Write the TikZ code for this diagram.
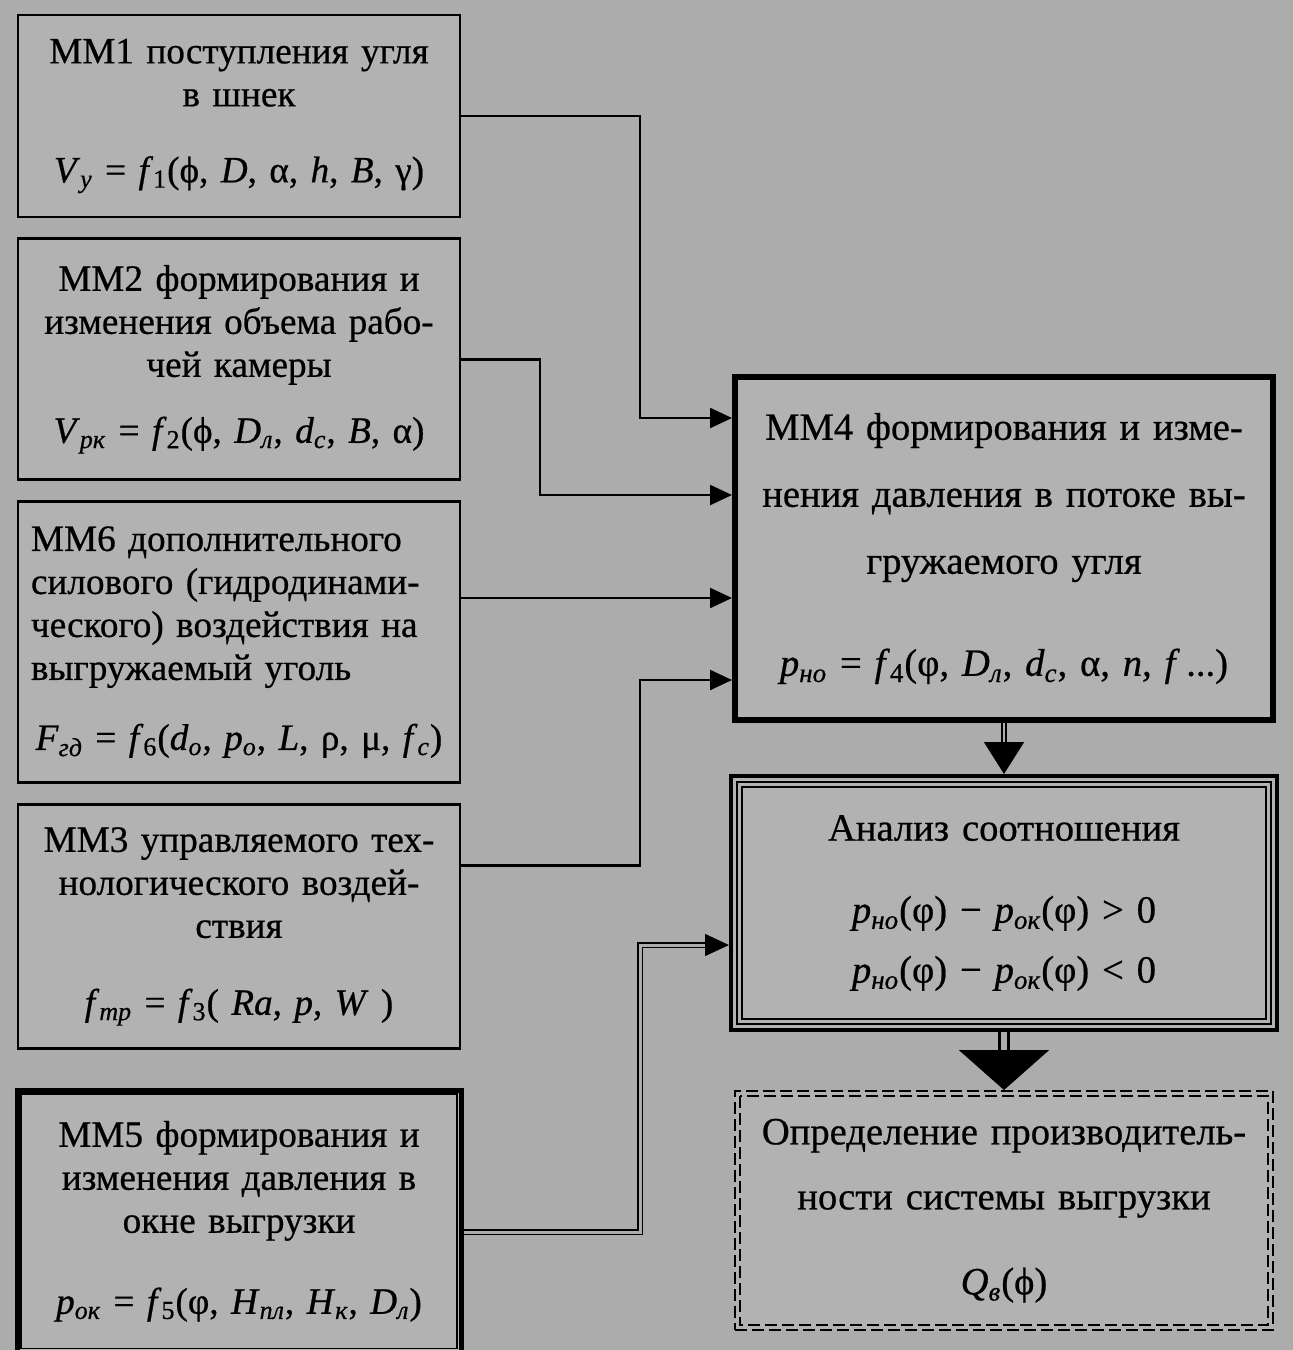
\documentclass[tikz,border=0pt]{standalone}
\usepackage{fontspec}
\setmainfont{Liberation Serif}[FakeBold=0.6]
\usepackage{tikz}
\usetikzlibrary{positioning, arrows.meta}
\definecolor{scan}{RGB}{172,172,172}
\definecolor{boxfill}{RGB}{178,178,178}
\newcommand{\mvar}[1]{\textit{#1}}
\newcommand{\msub}[1]{\textsubscript{\textit{#1}}}
\tikzstyle{model} = [rectangle, minimum width=221pt, text width=218pt,
align=center, draw=black, line width=1.4pt, fill=boxfill, inner sep=0pt,
font=\fontsize{18.6}{21.5}\selectfont]
\tikzstyle{main} = [rectangle, minimum width=269pt, text width=266pt,
align=center, draw=black, fill=boxfill, inner sep=0pt]
\tikzstyle{arrow} = [line width=1.2pt, -{Triangle[length=11pt, width=10pt]}]
\tikzstyle{dblarrow} = [line width=0.7pt, double=scan, double distance=1.5pt,
-{Triangle[length=12pt, width=11pt]}]

\begin{document}
\begin{tikzpicture}
\fill[scan] (0,0) rectangle (646.5pt,-675pt);
\useasboundingbox (0,0) rectangle (646.5pt,-675pt);

% left column
\node(mm1)[model, minimum height=101pt] at (119.5pt,-58pt)
{ММ1 поступления угля\\в шнек\\[16.5pt]
\mvar{V}\msub{у} = \mvar{f}\textsubscript{1}(ϕ, \mvar{D}, α, \mvar{h}, \mvar{B}, γ)};
\node(mm2)[model, minimum height=120.5pt, below=9.5pt of mm1]
{ММ2 формирования и\\изменения объема рабо-\\чей камеры\\[11.5pt]
\mvar{V}\msub{рк} = \mvar{f}\textsubscript{2}(ϕ, \mvar{D}\msub{л}, \mvar{d}\msub{с}, \mvar{B}, α)};
\node(mm6)[model, minimum height=140.5pt, below=9.5pt of mm2, align=left, text width=208pt]
{ММ6 дополнительного\\силового (гидродинами-\\ческого) воздействия на\\выгружаемый уголь\\[13.5pt]
\makebox[\linewidth]{\mvar{F}\msub{гд} = \mvar{f}\textsubscript{6}(\mvar{d}\msub{о}, \mvar{p}\msub{о}, \mvar{L}, ρ, μ, \mvar{f}\msub{с})}};
\node(mm3)[model, minimum height=122pt, below=9.5pt of mm6]
{ММ3 управляемого тех-\\нологического воздей-\\ствия\\[17pt]
\mvar{f}\msub{тр} = \mvar{f}\textsubscript{3}( \mvar{Ra}, \mvar{p}, \mvar{W} )};
\node(mm5)[model, minimum height=131pt, minimum width=222pt, line width=2.5pt, below=19pt of mm3]
{ММ5 формирования и\\изменения давления в\\окне выгрузки\\[19pt]
\mvar{p}\msub{ок} = \mvar{f}\textsubscript{5}(φ, \mvar{H}\msub{пл}, \mvar{H}\msub{к}, \mvar{D}\msub{л})};
\draw[line width=0.9pt] ([shift={(3.2pt,-3.2pt)}]mm5.north west) rectangle ([shift={(-3.2pt,3.2pt)}]mm5.south east);

% right column
\node(mm4)[main, minimum height=171.5pt, line width=3pt, font=\fontsize{19.3}{33.5}\selectfont] at (502pt,-274.25pt)
{ММ4 формирования и изме-\\нения давления в потоке вы-\\гружаемого угля\\[17.5pt]
\mvar{p}\msub{но} = \mvar{f}\textsubscript{4}(φ, \mvar{D}\msub{л}, \mvar{d}\msub{с}, α, \mvar{n}, \mvar{f}\,...)};
\node(ana)[main, minimum width=273pt, minimum height=127pt, line width=2pt, below=25.5pt of mm4, font=\fontsize{19.3}{30}\selectfont]
{Анализ соотношения\\[11pt]
\mvar{p}\msub{но}(φ) − \mvar{p}\msub{ок}(φ) > 0\\
\mvar{p}\msub{но}(φ) − \mvar{p}\msub{ок}(φ) < 0};
\draw[line width=0.8pt] ([shift={(4pt,-4pt)}]ana.north west) rectangle ([shift={(-4pt,4pt)}]ana.south east);
\draw[line width=0.8pt] ([shift={(6.5pt,-6.5pt)}]ana.north west) rectangle ([shift={(-6.5pt,6.5pt)}]ana.south east);
\node(out)[main, minimum height=119.5pt, line width=1.2pt, dash pattern=on 6pt off 2.5pt, below=29pt of ana, font=\fontsize{19.3}{32.5}\selectfont]
{Определение производитель-\\ности системы выгрузки\\[10pt]
\mvar{Q}\msub{в}(ϕ)};
\draw[line width=1pt, dash pattern=on 6pt off 2.5pt] ([shift={(3pt,-3pt)}]out.north west) rectangle ([shift={(-3pt,3pt)}]out.south east);

% inputs of MM4
\coordinate(in1) at ([yshift=65.25pt]mm4.west);
\coordinate(in2) at ([yshift=26.75pt]mm4.west);
\coordinate(in3) at ([yshift=-24.75pt]mm4.west);
\coordinate(in4) at ([yshift=-65.75pt]mm4.west);
\coordinate(in5) at ([yshift=-21pt]ana.west);
\coordinate(busA) at (320pt,0);
\coordinate(busB) at (270pt,0);

\draw[arrow](mm1.east) -| (busA |- in1) -- (in1);
\draw[arrow](mm2.east) -| (busB |- in2) -- (in2);
\draw[arrow](mm6.east |- in3) -- (in3);
\draw[arrow]([yshift=30.5pt]mm3.east) -| (busA |- in4) -- (in4);
\draw[dblarrow]([yshift=-5.5pt]mm5.east) -| (busA |- in5) -- (in5);

\draw[line width=0.8pt, double=scan, double distance=1pt, -{Triangle[length=16pt, width=20pt]}](mm4.south) -- (ana.north);
\draw[line width=1.3pt, double=scan, double distance=3pt, -{Triangle[length=20pt, width=45pt]}](ana.south) -- (out.north);

\end{tikzpicture}
\end{document}
